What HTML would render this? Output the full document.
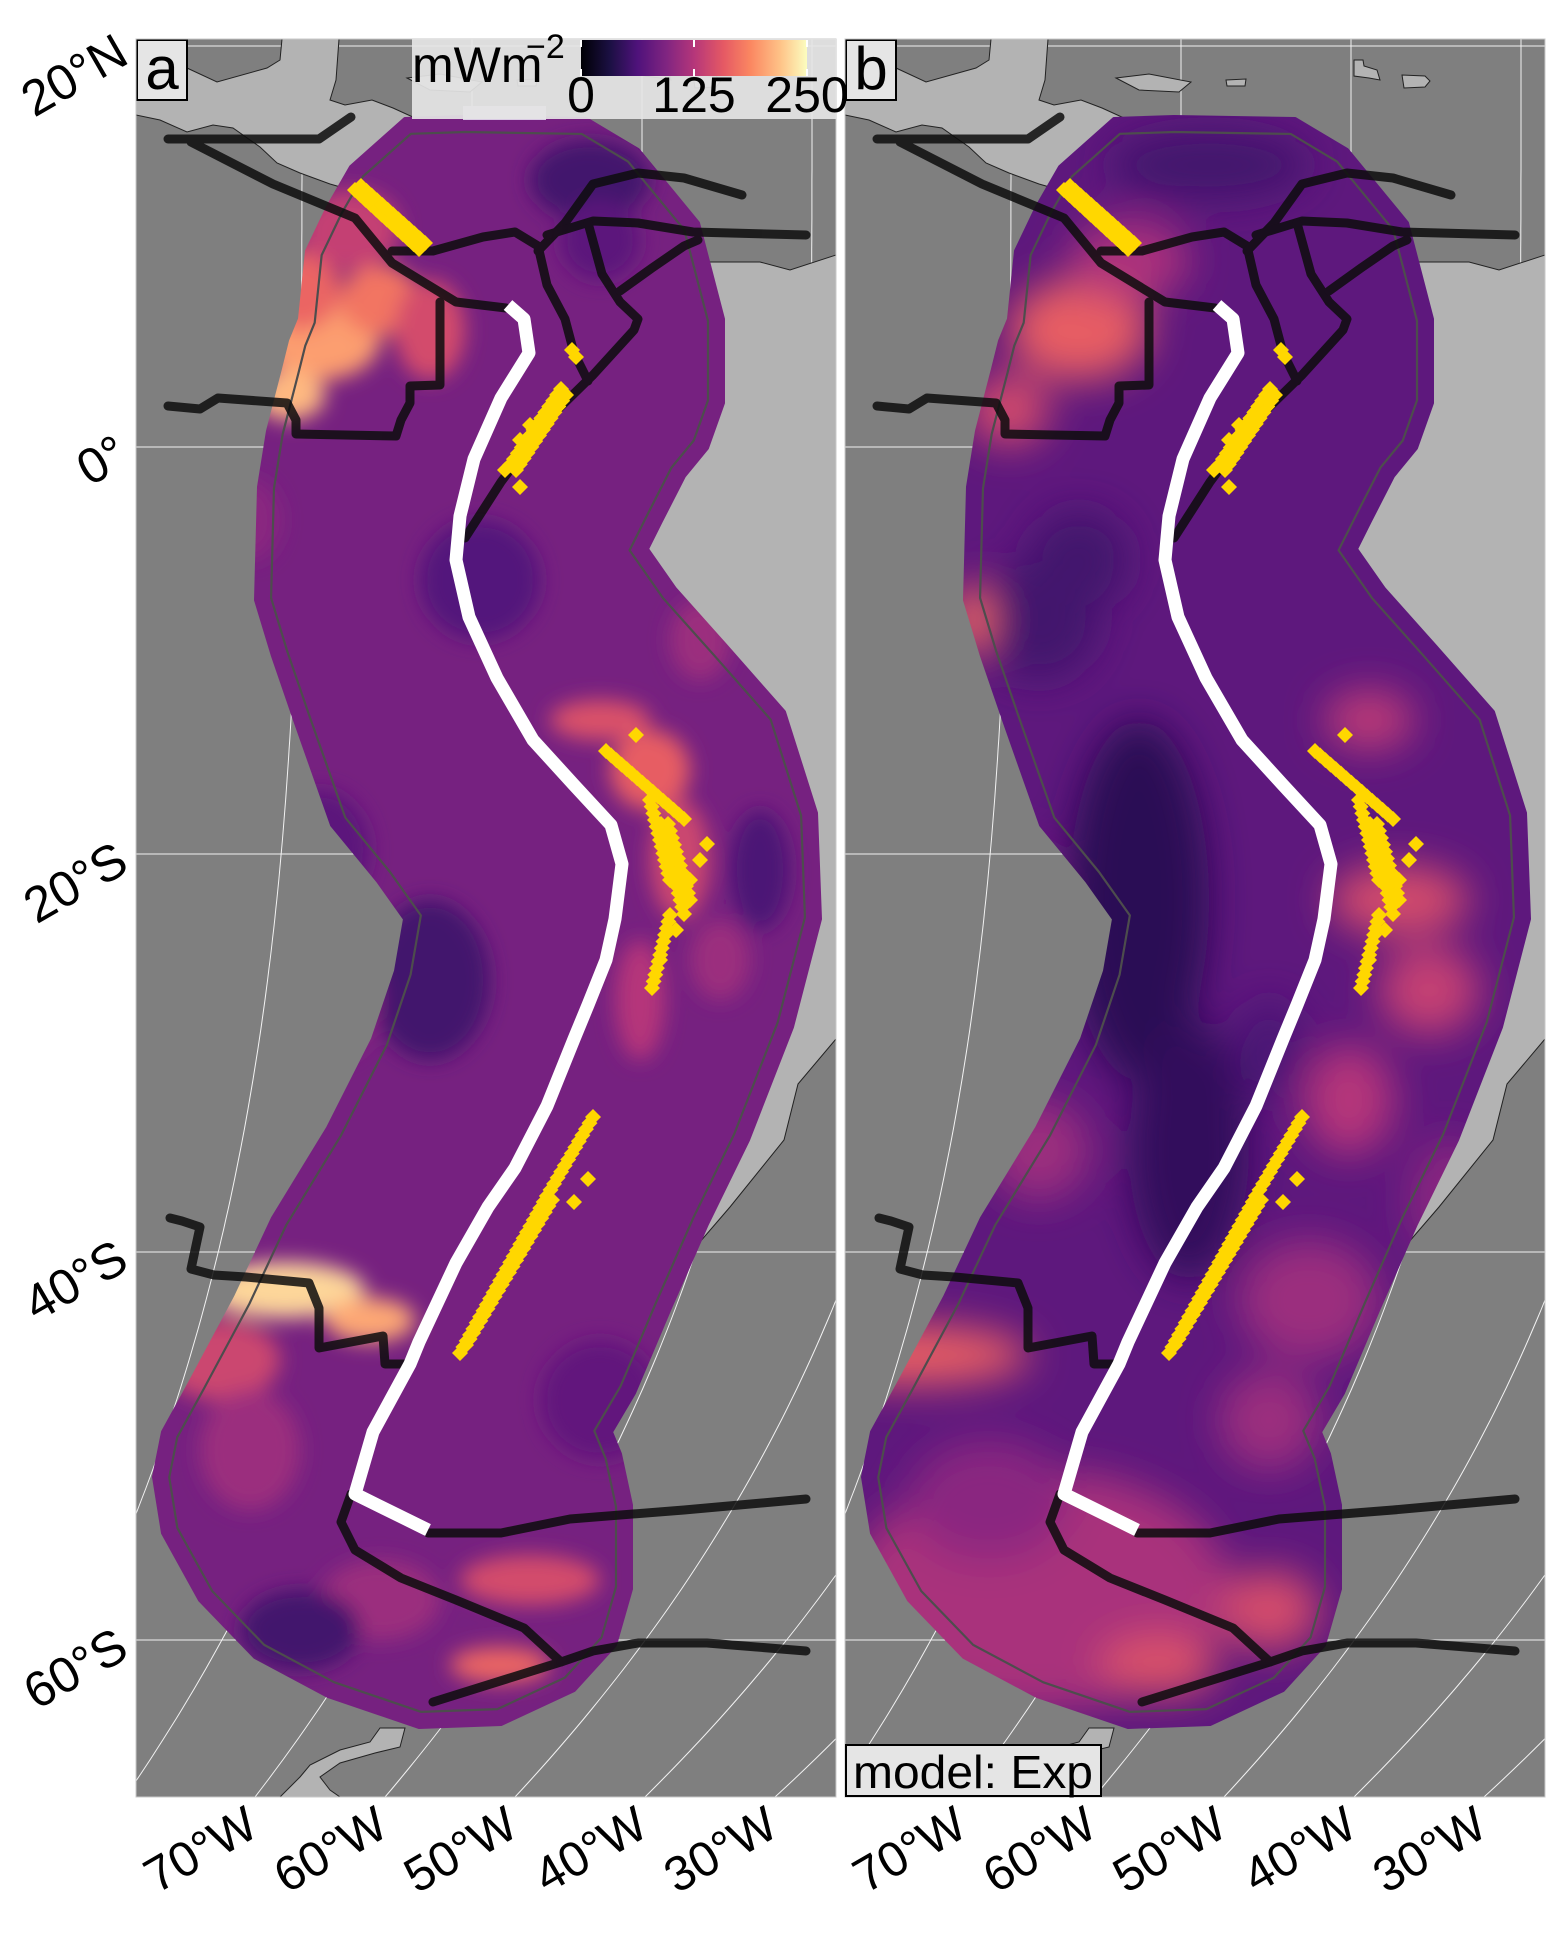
<!DOCTYPE html>
<html><head><meta charset="utf-8">
<style>
html,body{margin:0;padding:0;background:#fff;}
svg{display:block;}
text{font-family:"Liberation Sans",sans-serif;}
</style></head>
<body>
<svg id="fig" width="1554" height="1950" viewBox="0 0 1554 1950" xmlns="http://www.w3.org/2000/svg">
<defs>
<linearGradient id="magma" x1="0" x2="1" y1="0" y2="0">
<stop offset="0" stop-color="#000004"/><stop offset="0.13" stop-color="#1c1044"/><stop offset="0.25" stop-color="#4f127b"/><stop offset="0.38" stop-color="#812581"/><stop offset="0.5" stop-color="#b5367a"/><stop offset="0.63" stop-color="#e55964"/><stop offset="0.75" stop-color="#fb8761"/><stop offset="0.88" stop-color="#fec287"/><stop offset="1" stop-color="#fcfdbf"/>
</linearGradient>
<clipPath id="panelClip" clipPathUnits="userSpaceOnUse"><rect x="136" y="39" width="700" height="1758"/></clipPath>
<filter id="blurA" filterUnits="userSpaceOnUse" x="0" y="0" width="1000" height="1900"><feGaussianBlur stdDeviation="10"/></filter>
<filter id="blurB" filterUnits="userSpaceOnUse" x="0" y="0" width="1000" height="1900"><feGaussianBlur stdDeviation="20"/></filter>
<mask id="swathMask" maskUnits="userSpaceOnUse" maskContentUnits="userSpaceOnUse" x="0" y="0" width="1000" height="1900"><polygon id="maskPoly" fill="#fff" stroke="#fff" stroke-width="4" stroke-linejoin="round"/></mask>
</defs>
<g id="panels"></g>
</svg>
<script>
// ---- data ----
const latLabels = ["20°N","0°","20°S","40°S","60°S"];
const latY = [46,447,854,1252,1640];
const lonLabels = ["70°W","60°W","50°W","40°W","30°W"];
const lonIndex = [2,3,4,5,6];          // meridian index (0 = 90°W)
const cbTicks = [0,125,250];
const cbMax = 250;
const panelNames = ["a","b"];
const panelOffsets = [0,709];
const baseValue = [88,72];
// hotspots (x, y, rx, ry, heat flow mW/m2)
const hotA = [
 [320,340,60,40,200],[290,395,35,25,215],[380,300,40,35,175],[300,290,40,40,165],[430,330,35,50,145],[350,230,50,40,135],
 [600,720,50,20,150],[650,770,40,40,160],[680,860,30,60,140],[640,1000,25,60,125],[700,640,30,40,110],
 [285,1290,80,28,230],[370,1320,45,22,205],[220,1360,60,40,140],[530,1580,70,25,145],[500,1665,50,18,165],
 [380,1600,60,40,110],[430,980,60,80,55],[480,580,60,60,65],[590,180,60,40,55],[300,1630,60,40,55],
 [760,870,30,60,60],[330,1000,50,60,100],[600,1400,60,60,75],[250,520,30,40,100],[320,850,50,60,70],
 [250,1450,50,60,110],[600,240,40,40,70],[720,960,30,40,110]];
const hotB = [
 [370,330,70,50,160],[300,410,40,35,145],[420,260,60,40,120],[330,620,60,60,55],[430,900,70,180,42],
 [480,1150,60,130,45],[370,560,50,50,55],[690,900,70,35,145],[720,990,50,45,135],[660,720,45,30,130],
 [640,1100,45,55,125],[200,1355,120,30,160],[330,1590,190,120,118],[450,1665,60,30,150],[560,1610,50,40,145],
 [280,1500,80,60,100],[262,620,22,35,165],[500,165,100,35,55],[600,1300,70,60,110],[330,1150,50,50,110],
 [560,1050,35,50,60],[300,900,50,60,85],[740,1200,40,60,100],[560,1420,50,50,110]];
// swath outer boundary
const OUTER = [[405,119],[465,117],[586,119],[638,150],[698,223],[723,319],[723,403],[707,448],[684,476],[661,521],[647,549],[675,589],[725,645],[784,712],[816,813],[820,919],[792,1027],[748,1140],[707,1224],[670,1308],[634,1393],[611,1432],[620,1454],[631,1505],[631,1589],[615,1645],[574,1690],[501,1724],[419,1727],[328,1696],[255,1657],[200,1600],[163,1533],[154,1477],[163,1432],[191,1381],[236,1297],[273,1218],[328,1128],[373,1039],[396,971],[405,919],[378,881],[332,825],[296,723],[273,656],[256,600],[259,487],[268,431],[284,369],[291,341],[300,319],[307,251],[328,207],[351,167]];
const LAND = [
 [[136,39],[187,39],[187,68],[217,82],[267,68],[280,60],[282,39],[339,39],[336,80],[330,100],[345,105],[372,100],[393,108],[415,118],[420,130],[400,150],[380,160],[351,190],[330,184],[300,173],[277,163],[260,147],[233,128],[213,125],[187,132],[160,120],[136,115]],
 [[640,262],[700,262],[760,262],[790,270],[836,255],[836,1039],[798,1084],[784,1140],[730,1207],[650,1300],[600,1000],[600,400]],
 [[407,78],[440,74],[482,82],[470,92],[430,90]],[[517,80],[537,79],[536,86],[518,86]],
 [[645,60],[654,60],[655,66],[668,70],[671,80],[660,78],[645,76]],[[693,75],[716,76],[721,81],[716,87],[695,88]],
 [[380,1728],[405,1728],[400,1747],[375,1753],[340,1763],[320,1777],[330,1790],[340,1797],[280,1797],[300,1777],[310,1765],[340,1750],[370,1742]]];
const PLATES = [
 [[168,139],[319,139],[351,117]],
 [[191,142],[273,184],[355,218],[392,263],[456,302],[506,308]],
 [[392,251],[433,251],[483,237],[515,232],[538,246],[547,285],[565,319],[574,353],[588,381]],
 [[538,251],[565,223],[593,184],[638,173],[684,178],[742,195]],
 [[547,235],[593,221],[638,223],[693,232],[806,235]],
 [[588,223],[602,274],[620,302],[638,319],[634,330],[593,375],[547,420],[501,482],[465,538]],
 [[620,291],[652,268],[684,246],[698,240]],
 [[168,406],[200,409],[218,398],[287,403],[296,420],[296,434],[396,436],[401,420],[410,403],[410,386],[440,385],[440,302]],
 [[170,1218],[182,1221],[200,1227],[191,1269],[214,1275],[246,1277],[309,1283],[319,1308],[319,1348],[383,1336],[385,1364],[410,1364]],
 [[351,1494],[341,1522],[355,1550],[401,1578],[456,1600],[524,1628],[561,1662],[433,1702]],
 [[428,1533],[501,1533],[570,1519],[684,1510],[806,1499]],
 [[561,1662],[593,1651],[638,1643],[707,1643],[806,1651]]];
const TRENCH = [[508,305],[524,319],[529,353],[501,398],[474,459],[460,516],[456,560],[469,617],[497,678],[533,740],[574,785],[611,825],[622,864],[615,919],[606,960],[588,1005],[574,1039],[547,1106],[515,1168],[488,1207],[456,1263],[419,1342],[410,1364],[373,1432],[355,1494],[428,1530]];
const VOLC_SEGS = [[355,190,419,249],[361,186,425,243],[561,389,510,465],[566,395,516,470],[606,751,684,819],[661,824,684,914],[668,824,690,900],[670,915,652,988],[593,1117,547,1196],[547,1196,460,1353],[552,1200,466,1345],[650,800,670,880]];
const VOLC_PTS = [[572,350],[576,357],[520,487],[636,735],[707,844],[588,1179],[574,1202],[505,470],[520,440],[530,425],[690,880],[676,930],[700,860],[660,960]];

// ---- helpers ----
const NS = "http://www.w3.org/2000/svg";
function mk(tag, attrs, parent){const e=document.createElementNS(NS,tag);for(const k in attrs)e.setAttribute(k,attrs[k]);if(parent)parent.appendChild(e);return e;}
const magmaStops=[[0,[0,0,4]],[0.13,[28,16,68]],[0.25,[79,18,123]],[0.38,[129,37,129]],[0.5,[181,54,122]],[0.63,[229,89,100]],[0.75,[251,135,97]],[0.88,[254,194,135]],[1,[252,253,191]]];
function magma(v){let t=Math.max(0,Math.min(1,v/cbMax));for(let i=1;i<magmaStops.length;i++){const [t1,c1]=magmaStops[i],[t0,c0]=magmaStops[i-1];if(t<=t1){const f=(t-t0)/(t1-t0);return "rgb("+c0.map((c,j)=>Math.round(c+(c1[j]-c)*f)).join(",")+")";}}return "rgb(252,253,191)";}
function merX(k,y){const xt=302+170*k, D=307+40*k, v=(y-39)/1758;return xt-D*Math.pow(Math.max(v,0),3.5);}
function pts(a){return a.map(p=>p[0]+","+p[1]).join(" ");}
function offsetPoly(P,d){const n=P.length,out=[];for(let i=0;i<n;i++){const a=P[(i-1+n)%n],b=P[i],c=P[(i+1)%n];
 let e1=[b[0]-a[0],b[1]-a[1]],e2=[c[0]-b[0],c[1]-b[1]];const l1=Math.hypot(...e1)||1,l2=Math.hypot(...e2)||1;
 const n1=[-e1[1]/l1,e1[0]/l1],n2=[-e2[1]/l2,e2[0]/l2];let m=[n1[0]+n2[0],n1[1]+n2[1]];const lm=Math.hypot(...m)||1;m=[m[0]/lm,m[1]/lm];
 let dot=m[0]*n1[0]+m[1]*n1[1];dot=Math.max(dot,0.5);out.push([b[0]+m[0]*d/dot,b[1]+m[1]*d/dot]);}return out;}

document.getElementById('maskPoly').setAttribute('points',pts(OUTER));
const root=document.getElementById('panels');
const INNER=offsetPoly(OUTER,15);

panelNames.forEach((pn,pi)=>{
 const g=mk('g',{transform:'translate('+panelOffsets[pi]+',0)'},root);
 
 
 const c=mk('g',{'clip-path':'url(#panelClip)'},g);
 const ocean=mk('rect',{x:136,y:39,width:700,height:1758,fill:'#7f7f7f'},c);
 
 
 const grid=mk('g',{stroke:'#ffffff','stroke-width':1,fill:'none',opacity:0.9},c);
 
 
 latY.forEach(y=>{const l=mk('line',{x1:136,x2:836,y1:y,y2:y},grid);});
 for(let k=0;k<8;k++){const p=[];for(let y=39;y<=1800;y+=10)p.push([merX(k,y).toFixed(1),y]);const m=mk('polyline',{points:pts(p)},grid);}
 const land=mk('g',{fill:'#b3b3b3',stroke:'#222','stroke-width':1},c);
 
 
 LAND.forEach(L=>{const p=mk('polygon',{points:pts(L)},land);});
 const sw=mk('g',{mask:'url(#swathMask)'},c);
 
 
 mk('polygon',{points:pts(OUTER),fill:magma(baseValue[pi]),stroke:magma(baseValue[pi]),'stroke-width':30},sw);
 const bl=mk('g',{filter:pi===0?'url(#blurA)':'url(#blurB)'},sw);
 (pi===0?hotA:hotB).forEach(h=>{const e=mk('ellipse',{cx:h[0],cy:h[1],rx:h[2],ry:h[3],fill:magma(h[4])},bl);});
 if(pi===0){const lp=mk('rect',{x:463,y:106,width:83,height:14,fill:'#d9c9e3'},c);}
 const contour=mk('polygon',{points:pts(INNER),fill:'none',stroke:'#4d4d4d','stroke-width':2.2,'stroke-linejoin':'round'},c);
 
 
 const pb=mk('g',{stroke:'#0d0d0d','stroke-width':9,fill:'none','stroke-linejoin':'round','stroke-linecap':'round',opacity:0.85},c);
 
 
 PLATES.forEach(L=>{const p=mk('polyline',{points:pts(L)},pb);});
 const tr=mk('polyline',{points:pts(TRENCH),stroke:'#ffffff','stroke-width':13,fill:'none','stroke-linejoin':'round','stroke-linecap':'butt'},c);
 
 
 const vg=mk('g',{fill:'#ffd700'},c);
 
 
 const dia=(x,y)=>{const d=mk('polygon',{points:pts([[x,y-8],[x+8,y],[x,y+8],[x-8,y]])},vg);};
 VOLC_SEGS.forEach(s=>{const L=Math.hypot(s[2]-s[0],s[3]-s[1]);const n=Math.max(1,Math.round(L/7));for(let i=0;i<=n;i++){dia(s[0]+(s[2]-s[0])*i/n,s[1]+(s[3]-s[1])*i/n);}});
 VOLC_PTS.forEach(p=>dia(p[0],p[1]));
 const lb=mk('rect',{x:137,y:40,width:50,height:60,fill:'#e5e5e5',stroke:'#000','stroke-width':2},g);
 
 
 const lt=mk('text',{x:162,y:89,'font-size':60,'text-anchor':'middle',fill:'#000'},g);
 lt.textContent=pn;
 
 
 lonLabels.forEach((t,i)=>{const x=merX(lonIndex[i],1797)+6;const tx=mk('text',{x:x,y:1834,'font-size':49,'text-anchor':'end',transform:'rotate(-30 '+x+' 1834)'},g);tx.textContent=t;});
 const fr=mk('rect',{x:136,y:39,width:700,height:1758,fill:'none',stroke:'#c8c8c8','stroke-width':1},g);
 
 
});
latLabels.forEach((t,i)=>{const y=latY[i]+16;const tx=mk('text',{x:131,y:y,'font-size':50,'text-anchor':'end',transform:'rotate(-30 131 '+y+')'},root);tx.textContent=t;});
const lg=mk('g',{},root);


const lgb=mk('rect',{x:412,y:39,width:424,height:80,fill:'#e5e5e5',opacity:0.92},lg);


const ut=mk('text',{x:412,y:82,'font-size':50},lg);ut.textContent='mWm';


const us=mk('text',{x:526,y:58,'font-size':34},lg);us.textContent='−2';


const cbX0=581,cbW=226;
const cb=mk('rect',{x:cbX0,y:40,width:cbW,height:36,fill:'url(#magma)'},lg);


cbTicks.forEach(v=>{const x=cbX0+cbW*v/cbMax;
 const t1=mk('line',{x1:x,x2:x,y1:40,y2:47,stroke:'#fff','stroke-width':2},lg);
 const t2=mk('line',{x1:x,x2:x,y1:69,y2:76,stroke:'#fff','stroke-width':2},lg);
 const tl=mk('text',{x:x,y:112,'font-size':50,'text-anchor':'middle'},lg);tl.textContent=v;});
const mb=mk('rect',{x:846,y:1745,width:255,height:51,fill:'#e5e5e5',stroke:'#000','stroke-width':2},root);


const mt=mk('text',{x:853,y:1788,'font-size':46,textLength:240,lengthAdjust:'spacingAndGlyphs'},root);mt.textContent='model: Exp';


</script>
</body></html>
